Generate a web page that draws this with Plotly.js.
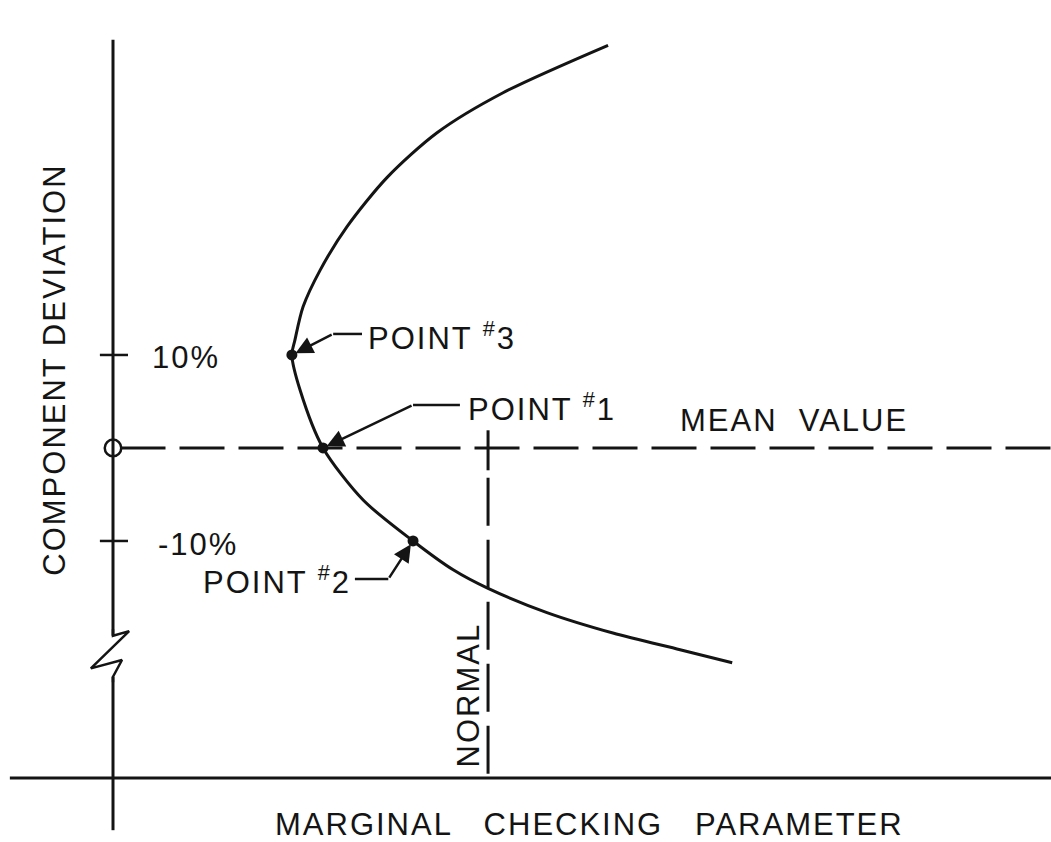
<!DOCTYPE html>
<html>
<head>
<meta charset="utf-8">
<script src="https://cdn.plot.ly/plotly-3.0.1.min.js"></script>
<style>
  html, body { margin: 0; padding: 0; background: #fff; }
  #chart { width: 1051px; height: 842px; }
  /* the hand lettering is spaced out */
  .annotation-text { letter-spacing: 2px; }
</style>
</head>
<body>
<div id="chart"></div>
<script>
// curve (x = checking parameter, y = deviation %)
var curveX = [13.2, 10.4, 8.64, 7.31, 6.24, 5.52, 5.07, 4.85, 4.77, 4.99, 5.6, 6.67, 8.0, 9.07, 10.0, 11.57, 13.33, 15.12, 16.51];
var curveY = [43.3, 38.2, 33.9, 29.1, 23.8, 19.1, 15.2, 11.6, 10, 6.2, 0, -5.6, -10, -13.1, -15.1, -17.7, -19.9, -21.7, -23.1];

// the three marked points
var pointNames = ["POINT <sup>#</sup>3", "POINT <sup>#</sup>1", "POINT <sup>#</sup>2"];
var pointX = [4.77, 5.6, 8.0];
var pointY = [10, 0, -10];

// tick labels on the deviation axis
var tickVals = [10, -10];
var tickText = ["10%", "-10%"];

var normalX = 10;     // "normal" value of checking parameter
var meanY = 0;        // mean value line

var ink = "#141414";
var font = { family: "Liberation Sans, Arial, sans-serif", size: 31, color: ink };

// 1. curve and points
var curve = {
  x: curveX, y: curveY,
  type: "scatter", mode: "lines",
  line: { color: ink, width: 3, shape: "spline", smoothing: 0.8 },
  hoverinfo: "skip"
};

var points = {
  x: pointX, y: pointY,
  type: "scatter", mode: "markers",
  marker: { color: ink, size: 11 },
  hoverinfo: "skip"
};

// 2. axis break on the vertical axis
var zigzag = {
  x: [0, 0, 0.43, -0.59, 0.24, 0, 0],
  y: [-19.5, -20.2, -19.7, -23.7, -22.8, -24.6, -25.2],
  type: "scatter", mode: "lines",
  line: { color: ink, width: 2.5 },
  hoverinfo: "skip"
};

var data = [curve, points, zigzag];

// 3. axes, ticks and guide lines drawn as shapes
var shapes = [
  // vertical axis (above and below the break)
  { type: "line", x0: 0, x1: 0, y0: 43.9, y1: -20.2, line: { color: ink, width: 3 } },
  { type: "line", x0: 0, x1: 0, y0: -24.6, y1: -41.1, line: { color: ink, width: 3 } },
  // horizontal axis
  { type: "line", x0: -2.75, x1: 25.1, y0: -35.5, y1: -35.5, line: { color: ink, width: 3 } },
  // mean value line
  { type: "line", x0: 0.2, x1: 25.1, y0: meanY, y1: meanY, line: { color: ink, width: 3, dash: "45px,14px" } },
  // normal line
  { type: "line", x0: normalX, x1: normalX, y0: 1.9, y1: -2.4, line: { color: ink, width: 3 } },
  { type: "line", x0: normalX, x1: normalX, y0: -3.2, y1: -35.5, line: { color: ink, width: 3, dash: "48px,14px" } },
  // zero circle
  { type: "circle", x0: -0.22, x1: 0.22, y0: -0.9, y1: 0.9, line: { color: ink, width: 2.5 } }
];

tickVals.forEach(function (v) {
  shapes.push({ type: "line", x0: -0.35, x1: 0.4, y0: v, y1: v, line: { color: ink, width: 2.5 } });
});

// leader lines (horizontal part before the kink)
var leaders = [
  { kx: 5.87, ky: 12.26, ex: 6.64, tx: 6.75, ty: 12.0, anchor: "left" },
  { kx: 8.0, ky: 4.62, ex: 9.25, tx: 9.4, ty: 4.4, anchor: "left" },
  { kx: 7.34, ky: -14.1, ex: 6.45, tx: 6.4, ty: -14.2, anchor: "right" }
];

var annotations = [];

leaders.forEach(function (l, i) {
  shapes.push({ type: "line", x0: l.kx, x1: l.ex, y0: l.ky, y1: l.ky, line: { color: ink, width: 2.5 } });
  // arrow from kink to the point
  annotations.push({
    x: pointX[i], y: pointY[i], xref: "x", yref: "y",
    ax: l.kx, ay: l.ky, axref: "x", ayref: "y",
    showarrow: true, arrowhead: 2, arrowsize: 1.4, arrowwidth: 2.5,
    arrowcolor: ink, standoff: 4, text: ""
  });
  annotations.push({
    x: l.tx, y: l.ty, xref: "x", yref: "y",
    text: pointNames[i], showarrow: false,
    xanchor: l.anchor, yanchor: "middle", font: font
  });
});

// tick labels
annotations.push({ x: 0.98, y: 9.7, xref: "x", yref: "y", text: tickText[0], showarrow: false,
  xanchor: "left", yanchor: "middle", font: font });
annotations.push({ x: 1.15, y: -10.4, xref: "x", yref: "y", text: tickText[1], showarrow: false,
  xanchor: "left", yanchor: "middle", font: font });

// labels
annotations.push({ x: 15.07, y: 3.0, xref: "x", yref: "y", text: "MEAN  VALUE", showarrow: false,
  xanchor: "left", yanchor: "middle", font: font });
annotations.push({ x: 9.47, y: -26.6, xref: "x", yref: "y", text: "NORMAL", showarrow: false,
  textangle: -90, xanchor: "center", yanchor: "middle", font: font });
annotations.push({ x: -1.55, y: 8.4, xref: "x", yref: "y", text: "COMPONENT DEVIATION", showarrow: false,
  textangle: -90, xanchor: "center", yanchor: "middle", font: font });
annotations.push({ x: 12.7, y: -40.5, xref: "x", yref: "y", text: "MARGINAL   CHECKING   PARAMETER", showarrow: false,
  xanchor: "center", yanchor: "middle", font: font });

var layout = {
  width: 1051, height: 842,
  margin: { l: 0, r: 0, t: 0, b: 0 },
  paper_bgcolor: "#fff", plot_bgcolor: "#fff",
  showlegend: false,
  xaxis: { range: [-3.013, 25.01], visible: false, fixedrange: true },
  yaxis: { range: [-42.37, 48.17], visible: false, fixedrange: true },
  shapes: shapes,
  annotations: annotations
};

Plotly.newPlot("chart", data, layout, { staticPlot: true });
</script>
</body>
</html>
